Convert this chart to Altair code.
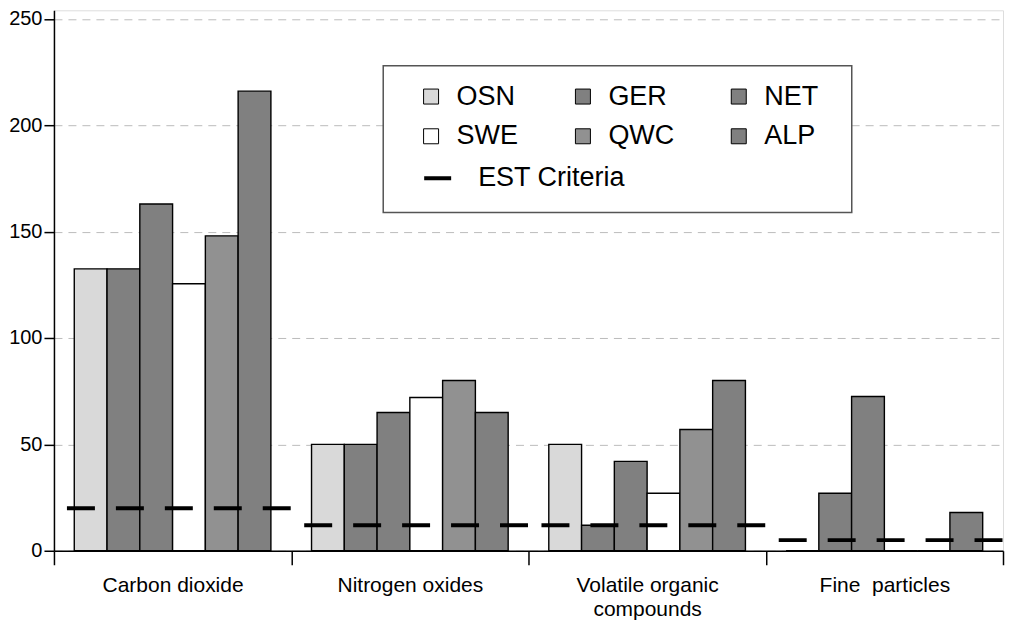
import altair as alt
import pandas as pd

# ---- data ----
categories = ["Carbon dioxide", "Nitrogen oxides", "Volatile organic compounds", "Fine\u00a0 particles"]
countries = ["OSN", "GER", "NET", "SWE", "QWC", "ALP"]
osn = [132.5, 50, 50, 0]
ger = [132.5, 50, 12, 27]
net = [163, 65, 42, 72.5]
swe = [125.5, 72, 27, 0]
qwc = [148, 80, 57, 0]
alp = [216, 65, 80, 18]
est = [20, 12, 12, 5]
est_label = "EST Criteria"
colors = {"OSN": "#d9d9d9", "GER": "#808080", "NET": "#808080",
          "SWE": "#ffffff", "QWC": "#919191", "ALP": "#808080"}
# legend fills column by column, so list entries column-wise to read row-wise
legend_order = ["OSN", "SWE", "GER", "QWC", "NET", "ALP"]
y_ticks = [0, 50, 100, 150, 200, 250]

series = {"OSN": osn, "GER": ger, "NET": net, "SWE": swe, "QWC": qwc, "ALP": alp}
rows = []
for c in countries:
    for cat, v in zip(categories, series[c]):
        rows.append({"category": cat, "country": c, "value": v})
bar_df = pd.DataFrame(rows)

est_df = pd.DataFrame({"category": categories, "idx": list(range(len(categories))),
                       "est": est, "label": [est_label] * len(categories)})

FONT = "Liberation Sans"
W, H = 950, 541

box = alt.Chart(pd.DataFrame({"k": [0]})).mark_rect(
    fill="white", stroke="#555555", strokeWidth=1.5
).encode(x=alt.value(329.6), x2=alt.value(798.6), y=alt.value(55.5), y2=alt.value(202.5))

bars = alt.Chart(bar_df).mark_bar(stroke="black", strokeWidth=1.4).encode(
    x=alt.X("category:N", sort=categories,
            scale=alt.Scale(paddingInner=0, paddingOuter=0),
            axis=alt.Axis(title=None, labelAngle=0, tickBand="extent", tickSize=14,
                          tickColor="black", tickWidth=1.5, domainColor="black", domainWidth=1.5,
                          labelFontSize=21, labelFont=FONT, labelColor="black",
                          labelPadding=10, labelLineHeight=24,
                          labelExpr="datum.label == 'Volatile organic compounds' ? ['Volatile organic', 'compounds'] : datum.label")),
    xOffset=alt.XOffset("country:N", sort=countries,
                        scale=alt.Scale(domain=countries, paddingInner=0, paddingOuter=0.62)),
    y=alt.Y("value:Q", scale=alt.Scale(domain=[0, 254], nice=False),
            axis=alt.Axis(values=y_ticks, title=None, grid=True, gridDash=[8, 6],
                          gridColor="#bcbcbc", gridWidth=1, domainColor="black", domainWidth=1.5,
                          tickColor="black", tickSize=10, tickWidth=1.5,
                          labelFontSize=20, labelFont=FONT, labelColor="black", labelPadding=2)),
    fill=alt.Fill("country:N",
                  scale=alt.Scale(domain=legend_order, range=[colors[c] for c in legend_order]),
                  legend=alt.Legend(orient="none", legendX=364, legendY=72.6, columns=3,
                                    columnPadding=51, rowPadding=12, symbolType="square",
                                    symbolSize=225, symbolStrokeColor="black", symbolStrokeWidth=1,
                                    labelFontSize=27, labelFont=FONT, labelColor="black",
                                    labelOffset=12, title=None, padding=0)),
)

rules = alt.Chart(est_df).transform_calculate(end="datum.idx + 1").mark_rule(
    strokeWidth=4, strokeDash=[28, 21], strokeDashOffset=36
).encode(
    x=alt.X("idx:Q", scale=alt.Scale(domain=[0, 4], nice=False, zero=False), axis=None),
    x2="end:Q",
    y=alt.Y("est:Q", title=None),
    stroke=alt.Stroke("label:N", scale=alt.Scale(domain=[est_label], range=["black"]),
                      legend=alt.Legend(orient="none", legendX=368.6, legendY=152.6,
                                        symbolType="stroke", symbolSize=729, symbolStrokeWidth=4,
                                        symbolDash=[1, 0],
                                        labelFontSize=27, labelFont=FONT, labelColor="black",
                                        labelOffset=25, title=None, padding=0)),
)

chart = alt.layer(box, bars, rules).resolve_scale(x="independent").properties(
    width=W, height=H, padding=0
).configure_view(stroke=None).configure(font=FONT)

chart.save("out.html", embed_options={"renderer": "svg", "actions": False})
